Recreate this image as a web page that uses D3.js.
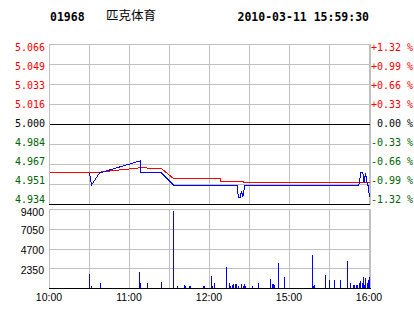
<!DOCTYPE html>
<html><head><meta charset="utf-8">
<script src="https://cdn.jsdelivr.net/npm/d3@7"></script>
<style>
html,body{margin:0;padding:0;background:#fff;}
svg{display:block;}
text{white-space:pre;}
</style></head>
<body>
<div id="chart"></div>
<script>
// ---------- data ----------
const stockCode = "01968";
const stockName = "匹克体育";
const stamp = "2010-03-11 15:59:30";
const prevClose = 5.000;
const pctTicks = [1.32, 0.99, 0.66, 0.33, 0, -0.33, -0.66, -0.99, -1.32];
const priceLabels = ["5.066","5.049","5.033","5.016","5.000","4.984","4.967","4.951","4.934"];
const pctLabels = ["+1.32 %","+0.99 %","+0.66 %","+0.33 %"," 0.00 %","-0.33 %","-0.66 %","-0.99 %","-1.32 %"];
const volTicks = [9400, 7050, 4700, 2350];
const volMax = 9400;
const timeLabels = ["10:00","11:00","12:00","15:00","16:00"];
const timeLabelMinutes = [0, 60, 120, 180, 240];
const totalMinutes = 240;

// price line (minute index from 10:00, price)
const priceTimes  = [30, 31.5, 37.5, 68, 68.5, 84, 93, 141, 141.5, 143, 144, 145, 146.5, 232, 233.5, 235, 236, 237, 238.5, 239, 240];
const priceValues = [4.96, 4.95, 4.96, 4.97, 4.96, 4.96, 4.95, 4.95, 4.94, 4.94, 4.945, 4.94, 4.95, 4.95, 4.96, 4.96, 4.952, 4.96, 4.95, 4.95, 4.94];
// average line
const avgTimes  = [0, 37.5, 68, 84, 93, 128, 128.5, 145, 145.5, 187, 187.5, 240];
const avgValues = [4.9607, 4.9607, 4.9643, 4.9637, 4.9554, 4.9554, 4.9532, 4.9532, 4.9524, 4.9524, 4.9519, 4.9519];
// volume
const volTimes = [30.2, 31.7, 38.5, 67.7, 68.5, 73.7, 83.8, 93.2, 95.8, 101.5, 102.2, 104.8, 105.6, 115.7, 116.5, 121.5, 122.2, 123.7,
  133, 135.2, 136, 137.5, 138.2, 139.5, 140.5, 142, 144.2, 145.3, 146.5, 147.2, 152.5, 157,
  166, 167, 168, 169, 172, 176.5, 197.5, 198.2, 199, 207.2, 210.2, 214, 218.5, 223.3,
  226, 227.8, 229, 230.5, 231.2, 232.3, 233.5, 234.5, 235.3, 236.5, 237.2, 238.3, 239.5, 240];
const volValues = [1670, 240, 630, 1940, 600, 600, 750, 9170, 240, 360, 200, 240, 240, 240, 240, 1430, 240, 630,
  2500, 600, 240, 360, 480, 480, 480, 240, 480, 280, 480, 200, 240, 600,
  1070, 510, 440, 360, 2980, 1310, 3930, 240, 320, 1550, 950, 950, 950, 3210,
  630, 360, 360, 360, 360, 630, 800, 630, 1270, 360, 1190, 630, 950, 1310];

// ---------- layout ----------
const W = 414, H = 314;
const L = 49, R = 369, RB = 370;
const pTop = 44, pBot = 204;
const vTop = 209, vBot = 288;
const red = "#ff0000", green = "#006400", blue = "#0000ff", grid = "#c0c0c0";

const svg = d3.select("#chart").append("svg").attr("width", W).attr("height", H);

const xs = d3.scaleLinear().domain([0, totalMinutes]).range([L, R]);
const pctScale = d3.scaleLinear().domain([-1.32, 1.32]).range([pBot, pTop]);
const ys = v => pctScale((v / prevClose - 1) * 100);
const yv = d3.scaleLinear().domain([0, volMax]).range([vBot, vTop]);

const crisp = v => Math.round(v) + 0.5;

// header
const mono = "'DejaVu Sans Mono', monospace";
svg.append("text").attr("x", 50).attr("y", 21).attr("font-family", mono).attr("font-weight", "bold")
  .attr("font-size", 11.5).text(stockCode);
svg.append("text").attr("x", 106).attr("y", 20).attr("font-family", "'Noto Sans CJK SC', sans-serif")
  .attr("font-size", 12.5).text(stockName);
svg.append("text").attr("x", 237.5).attr("y", 21).attr("font-family", mono).attr("font-weight", "bold")
  .attr("font-size", 11.5).text(stamp);

// grids
const gGrid = svg.append("g").attr("shape-rendering", "crispEdges");
timeLabelMinutes.concat([30, 90, 150, 210]).forEach(m => {
  const x = crisp(xs(m));
  gGrid.append("line").attr("x1", x).attr("x2", x).attr("y1", pTop).attr("y2", pBot).attr("stroke", grid);
  gGrid.append("line").attr("x1", x).attr("x2", x).attr("y1", vTop).attr("y2", vBot).attr("stroke", grid);
});
pctTicks.forEach(p => {
  const y = crisp(pctScale(p));
  gGrid.append("line").attr("x1", L).attr("x2", RB + 1).attr("y1", y).attr("y2", y)
    .attr("stroke", (p === 0 || p === -1.32) ? "#000" : grid);
});
// price borders
gGrid.append("line").attr("x1", crisp(L)).attr("x2", crisp(L)).attr("y1", pTop).attr("y2", pBot).attr("stroke", grid);
gGrid.append("line").attr("x1", crisp(RB)).attr("x2", crisp(RB)).attr("y1", pTop).attr("y2", pBot + 1).attr("stroke", grid);
// volume grid
volTicks.slice(1).forEach(v => {
  const y = crisp(yv(v));
  gGrid.append("line").attr("x1", L).attr("x2", RB + 1).attr("y1", y).attr("y2", y).attr("stroke", grid);
});
gGrid.append("line").attr("x1", L).attr("x2", RB + 1).attr("y1", crisp(vTop)).attr("y2", crisp(vTop)).attr("stroke", grid);
gGrid.append("line").attr("x1", crisp(L)).attr("x2", crisp(L)).attr("y1", vTop).attr("y2", vBot).attr("stroke", grid);
gGrid.append("line").attr("x1", crisp(RB)).attr("x2", crisp(RB)).attr("y1", vTop).attr("y2", vBot).attr("stroke", grid);

// price axis labels
pctTicks.forEach((p, i) => {
  const y = pctScale(p) + 7 - 0.95 * i;
  const col = p > 0 ? red : (p < 0 ? green : "#000");
  svg.append("text").attr("x", 45).attr("y", y).attr("text-anchor", "end").attr("font-family", mono)
    .attr("font-size", 10).attr("fill", col).text(priceLabels[i]);
  svg.append("text").attr("x", 371).attr("y", y).attr("font-family", mono)
    .attr("font-size", 10).attr("fill", col).text(pctLabels[i]);
});

// volume labels
const sans = "'Liberation Sans', Arial, sans-serif";
volTicks.forEach((v, i) => {
  const y = i === 0 ? yv(v) + 7 : yv(v) + 5.5;
  svg.append("text").attr("x", 44).attr("y", y).attr("text-anchor", "end").attr("font-family", sans)
    .attr("font-size", 10.5).attr("fill", "#000").text(v);
});

// time labels
timeLabels.forEach((t, i) => {
  svg.append("text").attr("x", xs(timeLabelMinutes[i])).attr("y", 301).attr("text-anchor", "middle")
    .attr("font-family", sans).attr("font-size", 10.5).attr("fill", "#000").text(t);
});

// volume bars
const vols = volTimes.map((t, i) => ({t, v: volValues[i]}));
svg.append("g").attr("shape-rendering", "crispEdges").selectAll("rect").data(vols).join("rect")
  .attr("x", d => Math.round(xs(d.t))).attr("width", 1)
  .attr("y", d => Math.round(yv(d.v))).attr("height", d => vBot - Math.round(yv(d.v)))
  .attr("fill", blue);
// volume bottom line
svg.append("line").attr("shape-rendering", "crispEdges").attr("x1", L).attr("x2", RB + 1)
  .attr("y1", crisp(vBot)).attr("y2", crisp(vBot)).attr("stroke", "#000");

// lines
const line = d3.line().x(d => xs(d.t) + 0.5).y(d => ys(d.v) + 0.5);
const avg = avgTimes.map((t, i) => ({t, v: avgValues[i]}));
const px = priceTimes.map((t, i) => ({t, v: priceValues[i]}));
svg.append("path").attr("d", line(avg)).attr("fill", "none").attr("stroke", red).attr("stroke-width", 1)
  .attr("shape-rendering", "crispEdges");
svg.append("path").attr("d", line(px)).attr("fill", "none").attr("stroke", blue).attr("stroke-width", 1)
  .attr("shape-rendering", "crispEdges");
</script>
</body></html>
